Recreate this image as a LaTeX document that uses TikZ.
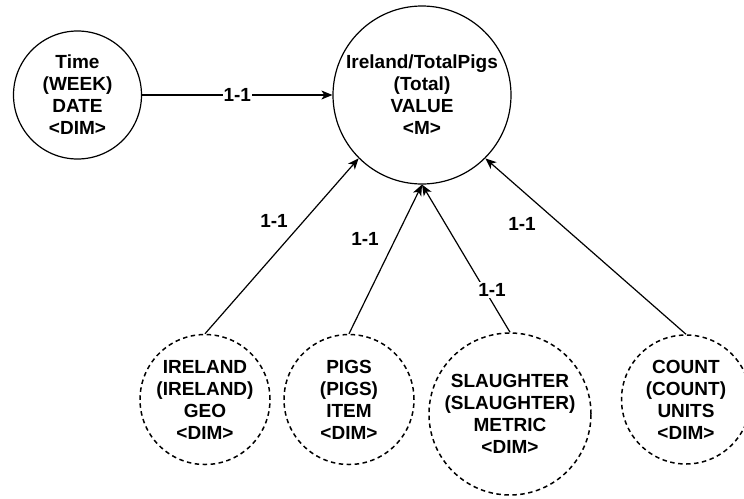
\documentclass[tikz,border=0pt]{standalone}
\usepackage{fontspec}
\setmainfont{Liberation Sans}
\usetikzlibrary{arrows.meta}
\begin{document}
\begin{tikzpicture}[x=1pt,y=-1pt,
  labelfont/.style={font=\bfseries\fontsize{19}{22}\selectfont},
  entity/.style={circle, draw, line width=1.2pt, inner sep=0pt, align=center, labelfont},
  dimension/.style={entity, line width=1.5pt, dash pattern=on 4.5pt off 3.5pt},
  link/.style={line width=1.2pt, -{Stealth[length=11pt,width=9pt,inset=3pt]}},
  card/.style={labelfont, inner sep=1pt}
]
\useasboundingbox (0,0) rectangle (744,498);

% measure and dimension nodes
\node[entity, minimum size=128pt] (time) at (77.5,95) {Time\\(WEEK)\\DATE\\{<}DIM{>}};
\node[entity, minimum size=178pt] (main) at (422,95) {Ireland/TotalPigs\\(Total)\\VALUE\\{<}M{>}};
\node[dimension, minimum size=130pt] (geo) at (205,399.5) {IRELAND\\(IRELAND)\\GEO\\{<}DIM{>}};
\node[dimension, minimum size=130pt] (item) at (349,399.5) {PIGS\\(PIGS)\\ITEM\\{<}DIM{>}};
\node[dimension, minimum size=162pt] (metric) at (510,414) {SLAUGHTER\\(SLAUGHTER)\\METRIC\\{<}DIM{>}};
\node[dimension, minimum size=129pt] (units) at (686,399.5) {COUNT\\(COUNT)\\UNITS\\{<}DIM{>}};

% connectors
\draw[link] (time.east) -- node[card, fill=white] (c1) {1-1} (main.west);
\draw[link] (geo.north) -- (main.225);
\draw[link] (item.north) -- (main.south);
\draw[link] (metric.north) -- (main.south);
\draw[link] (units.north) -- (main.-45);

% cardinality labels
\node[card] (c2) at (274,221) {1-1};
\node[card] (c3) at (365,239) {1-1};
\node[card, fill=white] (c4) at (492,290) {1-1};
\node[card] (c5) at (522,224) {1-1};
\end{tikzpicture}
\end{document}
